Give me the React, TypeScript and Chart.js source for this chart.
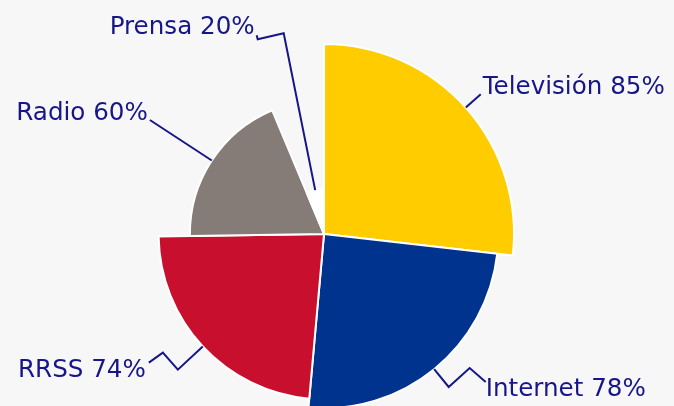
import React, { useEffect, useRef } from "react";
import { Chart, registerables } from "chart.js";

Chart.register(...registerables);

const categories = ["Televisión", "Internet", "RRSS", "Radio", "Prensa"];
const values = [85, 78, 74, 60, 20];
const colors = ["#FFCC00", "#00338D", "#C8102E", "#857C78", "#FFFFFF"];

const TEXT_COLOR = "#16168a";
const FONT = "24.6px 'DejaVu Sans', sans-serif";

// leader-line layout: radial length, extra bends (dx,dy), text anchor
const labelLayout = [
  { radial: 20, bends: [] as number[][], align: "left", tdx: 2, tdy: 0 },
  { radial: 23, bends: [[21, -19], [16, 14]], align: "left", tdx: 0, tdy: 14 },
  { radial: 34, bends: [[-15, -17], [-14, 10]], align: "right", tdx: -3, tdy: 14 },
  { radial: 74, bends: [] as number[][], align: "right", tdx: -2, tdy: 0 },
  { radial: 160, bends: [[-26, 6], [-1, -4]], align: "right", tdx: -2, tdy: -1 },
];

const total = values.reduce((a, b) => a + b, 0);

const leaderPlugin = {
  id: "leaders",
  afterDatasetsDraw(chart: any) {
    const ctx = chart.ctx;
    const meta = chart.getDatasetMeta(0);
    ctx.save();
    ctx.strokeStyle = TEXT_COLOR;
    ctx.lineWidth = 2;
    ctx.lineJoin = "miter";
    ctx.fillStyle = TEXT_COLOR;
    ctx.font = FONT;
    ctx.textBaseline = "alphabetic";
    meta.data.forEach((el: any, i: number) => {
      const { x, y, startAngle, endAngle, outerRadius } = el.getProps(
        ["x", "y", "startAngle", "endAngle", "outerRadius"],
        true
      );
      const mid = (startAngle + endAngle) / 2;
      const lay = labelLayout[i];
      let px = x + Math.cos(mid) * outerRadius;
      let py = y + Math.sin(mid) * outerRadius;
      ctx.beginPath();
      ctx.moveTo(px, py);
      px += Math.cos(mid) * lay.radial;
      py += Math.sin(mid) * lay.radial;
      ctx.lineTo(px, py);
      lay.bends.forEach(([dx, dy]) => {
        px += dx;
        py += dy;
        ctx.lineTo(px, py);
      });
      ctx.stroke();
      ctx.textAlign = lay.align as CanvasTextAlign;
      ctx.fillText(`${categories[i]} ${values[i]}%`, px + lay.tdx, py + lay.tdy);
    });
    ctx.restore();
  },
};

export default function App() {
  const ref = useRef<HTMLCanvasElement>(null);
  useEffect(() => {
    document.body.style.margin = "0";
    const chart = new Chart(ref.current!, {
      type: "polarArea",
      data: {
        labels: categories,
        datasets: [
          {
            data: values,
            backgroundColor: colors,
            borderColor: "#FFFFFF",
            borderWidth: 2,
            angle: (c: any) => (values[c.dataIndex] / total) * 360,
          } as any,
        ],
      },
      options: {
        responsive: false,
        animation: false,
        layout: { padding: { left: 134, right: 160, top: 44, bottom: 6 } },
        scales: {
          r: {
            display: false,
            min: 0,
            max: Math.max(...values),
          },
        },
        plugins: {
          legend: { display: false },
          tooltip: { enabled: false },
        },
      },
      plugins: [leaderPlugin],
    });
    return () => chart.destroy();
  }, []);
  return (
    <div
      style={{
        position: "fixed",
        left: 0,
        top: 0,
        width: 674,
        height: 406,
        overflow: "hidden",
        background: "#F7F7F7",
      }}
    >
      <canvas ref={ref} width={674} height={430} style={{ display: "block" }} />
    </div>
  );
}
